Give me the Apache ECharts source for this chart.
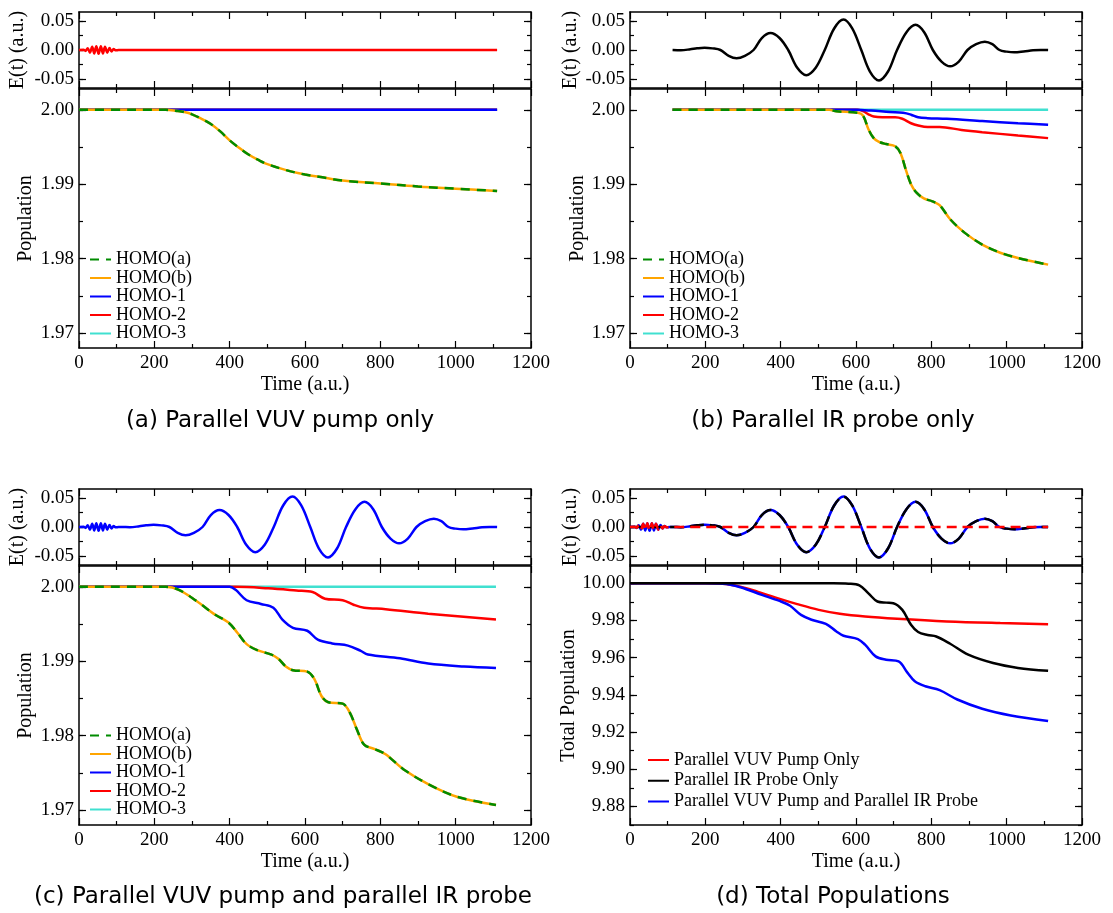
<!DOCTYPE html>
<html><head><meta charset="utf-8">
<script src="https://cdn.jsdelivr.net/npm/echarts@6/dist/echarts.min.js"></script>
<style>html,body{margin:0;padding:0;background:#fff}#c{width:1113px;height:913px}</style>
</head><body><div id="c"></div><script>
// ---------- DATA ----------
// VUV pump field (small fast oscillation)
const vuvT = [0, 12, 17.5, 23, 29, 35, 40.5, 46, 52, 58, 63.5, 69, 75, 81, 86.5, 92, 98, 105];
const vuvE = [0, 0.0005, -0.0015, 0.003, -0.0045, 0.0055, -0.006, 0.0065, -0.0065, 0.0065, -0.006, 0.0055, -0.0045, 0.0035, -0.0025, 0.0015, -0.0005, 0];
const fieldEndT = [1110];
const fieldEndE = [0];
// IR probe field
const irT = [113, 135, 160, 178, 198, 219, 240, 262, 283, 305, 328, 350, 373, 397, 420, 444, 468, 493, 517, 542, 567, 590, 614, 637, 661, 685, 709, 734, 758, 781, 804, 827, 850, 873, 896, 919, 942, 962, 981, 1000, 1020, 1045, 1070, 1090, 1110];
const irE = [0, -0.0004, 0.0012, 0.0029, 0.004, 0.0028, 0, -0.0099, -0.014, -0.0099, 0, 0.0205, 0.029, 0.0205, 0, -0.0304, -0.043, -0.0304, 0, 0.0368, 0.052, 0.0368, 0, -0.0368, -0.052, -0.0368, 0, 0.0304, 0.043, 0.0304, 0, -0.0198, -0.028, -0.0198, 0, 0.0099, 0.014, 0.0099, 0, -0.0028, -0.004, -0.0025, -0.0004, 0.0002, 0];

// (a) VUV pump only
const aHomoT = [0, 100, 200, 230, 260, 280, 300, 325, 350, 375, 400, 425, 450, 475, 500, 550, 600, 650, 700, 800, 900, 1000, 1110];
const aHomo  = [2.0, 2.0, 2.0, 2.0, 1.99985, 1.9997, 1.9994, 1.9988, 1.9981, 1.9971, 1.9959, 1.9949, 1.9940, 1.9933, 1.9927, 1.9919, 1.9913, 1.9909, 1.9905, 1.9901, 1.9897, 1.9894, 1.9891];
const aFlatT = [0, 1110];
const aFlat  = [2.0, 2.0];

// (b) IR probe only
const bHomoT = [113, 200, 300, 400, 529, 548, 605, 619, 633, 647, 661, 680, 704, 718, 732, 746, 760, 780, 803, 822, 850, 888, 935, 983, 1030, 1110];
const bHomo  = [2.0, 2.0, 2.0, 2.0, 2.0, 1.9998, 1.9996, 1.9992, 1.9974, 1.9962, 1.9957, 1.9954, 1.9951, 1.9942, 1.9920, 1.9900, 1.9889, 1.9881, 1.9877, 1.9872, 1.9853, 1.9835, 1.9819, 1.9808, 1.9801, 1.9792];
const bH1T = [113, 600, 640, 690, 725, 746, 765, 790, 841, 935, 1030, 1110];
const bH1  = [2.0, 2.0, 1.9999, 1.9997, 1.9996, 1.99935, 1.9990, 1.99888, 1.9988, 1.9985, 1.9982, 1.9980];
const bH2T = [113, 605, 620, 633, 647, 670, 704, 723, 746, 765, 790, 822, 880, 935, 1030, 1110];
const bH2  = [2.0, 2.0, 1.9998, 1.9994, 1.9991, 1.9990, 1.9990, 1.9988, 1.9982, 1.9979, 1.9977, 1.9977, 1.9973, 1.9970, 1.99655, 1.9962];
const bH3T = [113, 1110];
const bH3  = [2.0, 2.0];

// (c) VUV pump + IR probe
const cHomoT = [0, 200, 230, 265, 312, 360, 397, 421, 445, 473, 511, 530, 549, 568, 606, 625, 644, 662, 700, 719, 738, 757, 785, 814, 861, 927, 1003, 1107];
const cHomo  = [2.0, 2.0, 2.0, 1.9996, 1.9981, 1.9963, 1.9952, 1.9938, 1.9923, 1.9915, 1.9909, 1.9903, 1.9893, 1.9888, 1.9886, 1.9876, 1.9853, 1.9845, 1.9843, 1.9831, 1.9808, 1.9788, 1.9782, 1.9775, 1.9755, 1.9735, 1.9718, 1.9707];
const cH1T = [0, 400, 416, 445, 483, 516, 540, 568, 606, 634, 672, 714, 748, 767, 852, 927, 1022, 1107];
const cH1  = [2.0, 2.0, 1.9996, 1.9982, 1.9977, 1.9972, 1.9956, 1.9945, 1.9941, 1.9929, 1.9924, 1.9921, 1.9914, 1.9909, 1.9904, 1.9897, 1.9893, 1.9891];
const cH2T = [0, 416, 502, 577, 620, 653, 700, 729, 757, 814, 927, 1107];
const cH2  = [2.0, 2.0, 1.9998, 1.9995, 1.9993, 1.9984, 1.9982, 1.9976, 1.9972, 1.9970, 1.9964, 1.9956];
const cH3T = [0, 1107];
const cH3  = [2.0, 2.0];

// (d) total populations
const dVuvT = [0, 200, 246, 293, 340, 387, 444, 501, 557, 624, 709, 841, 983, 1110];
const dVuv  = [10.0, 10.0, 9.9998, 9.9982, 9.9954, 9.9923, 9.9888, 9.9857, 9.9836, 9.9821, 9.9809, 9.9795, 9.9786, 9.9780];
const dIrT = [0, 540, 580, 609, 633, 657, 680, 699, 723, 746, 765, 790, 813, 850, 898, 964, 1030, 1110];
const dIr  = [10.0, 10.0, 9.9998, 9.9989, 9.9946, 9.9902, 9.9896, 9.9893, 9.9857, 9.9777, 9.9738, 9.9722, 9.9714, 9.9675, 9.9616, 9.9571, 9.9545, 9.9529];
const dBothT = [0, 200, 246, 293, 350, 397, 425, 454, 482, 520, 548, 567, 605, 624, 652, 680, 713, 737, 756, 784, 822, 869, 935, 1011, 1110];
const dBoth  = [10.0, 10.0, 9.9998, 9.9979, 9.9938, 9.9905, 9.9879, 9.9830, 9.9804, 9.9782, 9.9741, 9.9718, 9.9700, 9.9670, 9.9607, 9.9589, 9.9580, 9.9518, 9.9473, 9.9446, 9.9425, 9.9375, 9.9325, 9.9289, 9.9259];

// tick values
const eMajor = [-0.05, 0, 0.05];
const eMinor = [-0.05, -0.025, 0, 0.025, 0.05];
const pMajor = [1.97, 1.98, 1.99, 2.00];
const pMinor = [1.97, 1.975, 1.98, 1.985, 1.99, 1.995, 2.00];
const tMajor = [9.88, 9.90, 9.92, 9.94, 9.96, 9.98, 10.00];
const tMinor = [9.87, 9.88, 9.89, 9.90, 9.91, 9.92, 9.93, 9.94, 9.95, 9.96, 9.97, 9.98, 9.99, 10.00];

const homoNames = ['HOMO(a)', 'HOMO(b)', 'HOMO-1', 'HOMO-2', 'HOMO-3'];
const totNames = ['Parallel VUV Pump Only', 'Parallel IR Probe Only', 'Parallel VUV Pump and Parallel IR Probe'];
const captions = ['(a) Parallel VUV pump only', '(b) Parallel IR probe only', '(c) Parallel VUV pump and parallel IR probe', '(d) Total Populations'];

// ---------- BUILD ----------
const zip = (t, v) => t.map((x, i) => [x, v[i]]);
const C = {green: '#008b00', orange: '#ffa500', blue: '#0000ff', red: '#ff0000', cyan: '#40e0d0', black: '#000000'};
const FF = 'Liberation Serif';
const grids = [], xAxes = [], yAxes = [], series = [];
const lineS = {color: '#000', width: 1.5};
const tickS = {color: '#000', width: 1.2};
const labStyle = {fontFamily: FF, fontSize: 19, color: '#000'};
const rich = {s: {fontFamily: FF, fontSize: 19, color: '#000'}};

function addGrid(box, y, opt) {
  const gi = grids.length;
  grids.push({left: box.left, top: box.top, width: box.width, height: box.height, containLabel: false});
  const xi = xAxes.length;
  const xb = {gridIndex: gi, type: 'value', min: 0, max: 1200, interval: 200,
    axisLine: {show: true, onZero: false, lineStyle: lineS},
    axisTick: {show: true, inside: true, length: 7, lineStyle: tickS},
    minorTick: {show: true, splitNumber: 2, length: 4, lineStyle: tickS},
    splitLine: {show: false}, minorSplitLine: {show: false}};
  xAxes.push(Object.assign({}, xb, {position: 'bottom',
    axisLabel: Object.assign({show: !!opt.xName, formatter: v => '{s|' + v + '}', rich: rich, margin: 6}, labStyle),
    name: opt.xName || '', nameLocation: 'middle', nameGap: 27,
    nameTextStyle: {fontFamily: FF, fontSize: 20, color: '#000'}}));
  xAxes.push(Object.assign({}, xb, {position: 'top', axisLabel: {show: false}}));
  const yi = yAxes.length;
  const yb = {gridIndex: gi, type: 'value', min: y.min, max: y.max, splitLine: {show: false}, axisLabel: {show: false}};
  yAxes.push(Object.assign({}, yb, {position: 'left',
    axisLine: {show: true, onZero: false, lineStyle: lineS},
    axisTick: {show: true, inside: true, length: 7, lineStyle: tickS, customValues: y.major},
    axisLabel: Object.assign({show: true, customValues: y.major, formatter: v => '{s|' + v.toFixed(2) + '}', rich: rich, margin: 5}, labStyle),
    name: opt.yName, nameLocation: 'middle', nameGap: opt.yGap, nameRotate: 90,
    nameTextStyle: {fontFamily: FF, fontSize: 20, color: '#000'}}));
  yAxes.push(Object.assign({}, yb, {position: 'left', axisLine: {show: false, onZero: false},
    axisTick: {show: true, inside: true, length: 4, lineStyle: tickS, customValues: y.minor}}));
  yAxes.push(Object.assign({}, yb, {position: 'right', axisLine: {show: true, onZero: false, lineStyle: lineS},
    axisTick: {show: true, inside: true, length: 7, lineStyle: tickS, customValues: y.major}}));
  yAxes.push(Object.assign({}, yb, {position: 'right', axisLine: {show: false, onZero: false},
    axisTick: {show: true, inside: true, length: 4, lineStyle: tickS, customValues: y.minor}}));
  return {x: xi, y: yi};
}

function addLine(ax, name, data, color, opts) {
  opts = opts || {};
  series.push({type: 'line', name: name, xAxisIndex: ax.x, yAxisIndex: ax.y, data: data,
    symbol: 'none', smooth: opts.smooth === undefined ? 0.35 : opts.smooth,
    z: opts.z || 2, silent: true,
    lineStyle: {color: color, width: opts.w || 2.5, type: opts.type || 'solid'},
    itemStyle: {color: color}});
}

const eY = {min: -0.065, max: 0.065, major: eMajor, minor: eMinor};
const pY = {min: 1.968, max: 2.0028, major: pMajor, minor: pMinor};
const tY = {min: 9.870, max: 10.0093, major: tMajor, minor: tMinor};

const L = [79, 630], W = 452;
const dash = [9, 7];

// ---- panel a
let e = addGrid({left: L[0], top: 12, width: W, height: 76}, eY, {yName: 'E(t) (a.u.)', yGap: 51});
addLine(e, 'E_a', zip(vuvT.concat(fieldEndT), vuvE.concat(fieldEndE)), C.red);
let p = addGrid({left: L[0], top: 89, width: W, height: 259}, pY, {yName: 'Population', yGap: 43, xName: 'Time (a.u.)'});
addLine(p, 'HOMO-3', zip(aFlatT, aFlat), C.cyan, {z: 2});
addLine(p, 'HOMO-2', zip(aFlatT, aFlat), C.red, {z: 3});
addLine(p, 'HOMO-1', zip(aFlatT, aFlat), C.blue, {z: 4});
addLine(p, 'HOMO(b)', zip(aHomoT, aHomo), C.orange, {z: 5});
addLine(p, 'HOMO(a)', zip(aHomoT, aHomo), C.green, {z: 6, type: dash});

// ---- panel b
e = addGrid({left: L[1], top: 12, width: W, height: 76}, eY, {yName: 'E(t) (a.u.)', yGap: 49});
addLine(e, 'E_b', zip(irT, irE), C.black);
p = addGrid({left: L[1], top: 89, width: W, height: 259}, pY, {yName: 'Population', yGap: 42, xName: 'Time (a.u.)'});
addLine(p, 'HOMO-3', zip(bH3T, bH3), C.cyan, {z: 2});
addLine(p, 'HOMO-2', zip(bH2T, bH2), C.red, {z: 3});
addLine(p, 'HOMO-1', zip(bH1T, bH1), C.blue, {z: 4});
addLine(p, 'HOMO(b)', zip(bHomoT, bHomo), C.orange, {z: 5});
addLine(p, 'HOMO(a)', zip(bHomoT, bHomo), C.green, {z: 6, type: dash});

// ---- panel c
e = addGrid({left: L[0], top: 489, width: W, height: 76}, eY, {yName: 'E(t) (a.u.)', yGap: 51});
addLine(e, 'E_c', zip(vuvT.concat(irT), vuvE.concat(irE)), C.blue);
p = addGrid({left: L[0], top: 566, width: W, height: 259}, pY, {yName: 'Population', yGap: 43, xName: 'Time (a.u.)'});
addLine(p, 'HOMO-3', zip(cH3T, cH3), C.cyan, {z: 2});
addLine(p, 'HOMO-2', zip(cH2T, cH2), C.red, {z: 3});
addLine(p, 'HOMO-1', zip(cH1T, cH1), C.blue, {z: 4});
addLine(p, 'HOMO(b)', zip(cHomoT, cHomo), C.orange, {z: 5});
addLine(p, 'HOMO(a)', zip(cHomoT, cHomo), C.green, {z: 6, type: dash});

// ---- panel d
e = addGrid({left: L[1], top: 489, width: W, height: 76}, eY, {yName: 'E(t) (a.u.)', yGap: 49});
addLine(e, 'E_d_both', zip(vuvT.concat(irT), vuvE.concat(irE)), C.blue, {z: 2});
addLine(e, 'E_d_ir', zip([0].concat(irT), [0].concat(irE)), C.black, {z: 3, type: [14, 6]});
addLine(e, 'E_d_vuv', zip(vuvT.concat(fieldEndT), vuvE.concat(fieldEndE)), C.red, {z: 4, type: [10, 6]});
p = addGrid({left: L[1], top: 566, width: W, height: 259}, tY, {yName: 'Total Population', yGap: 48, xName: 'Time (a.u.)'});
addLine(p, totNames[0], zip(dVuvT, dVuv), C.red, {z: 2});
addLine(p, totNames[2], zip(dBothT, dBoth), C.blue, {z: 3});
addLine(p, totNames[1], zip(dIrT, dIr), C.black, {z: 4});

const legBase = {orient: 'vertical', padding: 0, itemWidth: 21, itemHeight: 10, selectedMode: false,
  itemStyle: {opacity: 0, color: 'rgba(0,0,0,0)', borderColor: 'rgba(0,0,0,0)', borderWidth: 0},
  textStyle: {fontFamily: FF, fontSize: 18, color: '#000', lineHeight: 17}, itemGap: 0.5};
const legends = [
  Object.assign({}, legBase, {left: 89, top: 250.5, data: homoNames}),
  Object.assign({}, legBase, {left: 642, top: 250.5, data: homoNames}),
  Object.assign({}, legBase, {left: 89, top: 726.5, data: homoNames}),
  Object.assign({}, legBase, {left: 647, top: 751, data: totNames, itemGap: 2.75,
    textStyle: {fontFamily: FF, fontSize: 18, color: '#000', lineHeight: 18}})
];

const capPos = [[280, 421], [833, 421], [283, 897], [833, 897]];
const graphic = captions.map((t, i) => ({type: 'text', x: capPos[i][0], y: capPos[i][1], silent: true,
  style: {text: t, textAlign: 'center', textVerticalAlign: 'middle', font: '23px "DejaVu Sans"', fill: '#000'}}));

const chart = echarts.init(document.getElementById('c'), null, {renderer: 'canvas'});
chart.setOption({animation: false, backgroundColor: '#fff', textStyle: {fontFamily: FF},
  grid: grids, xAxis: xAxes, yAxis: yAxes,
  series: series, legend: legends, graphic: graphic, tooltip: {show: false}});
</script></body></html>
